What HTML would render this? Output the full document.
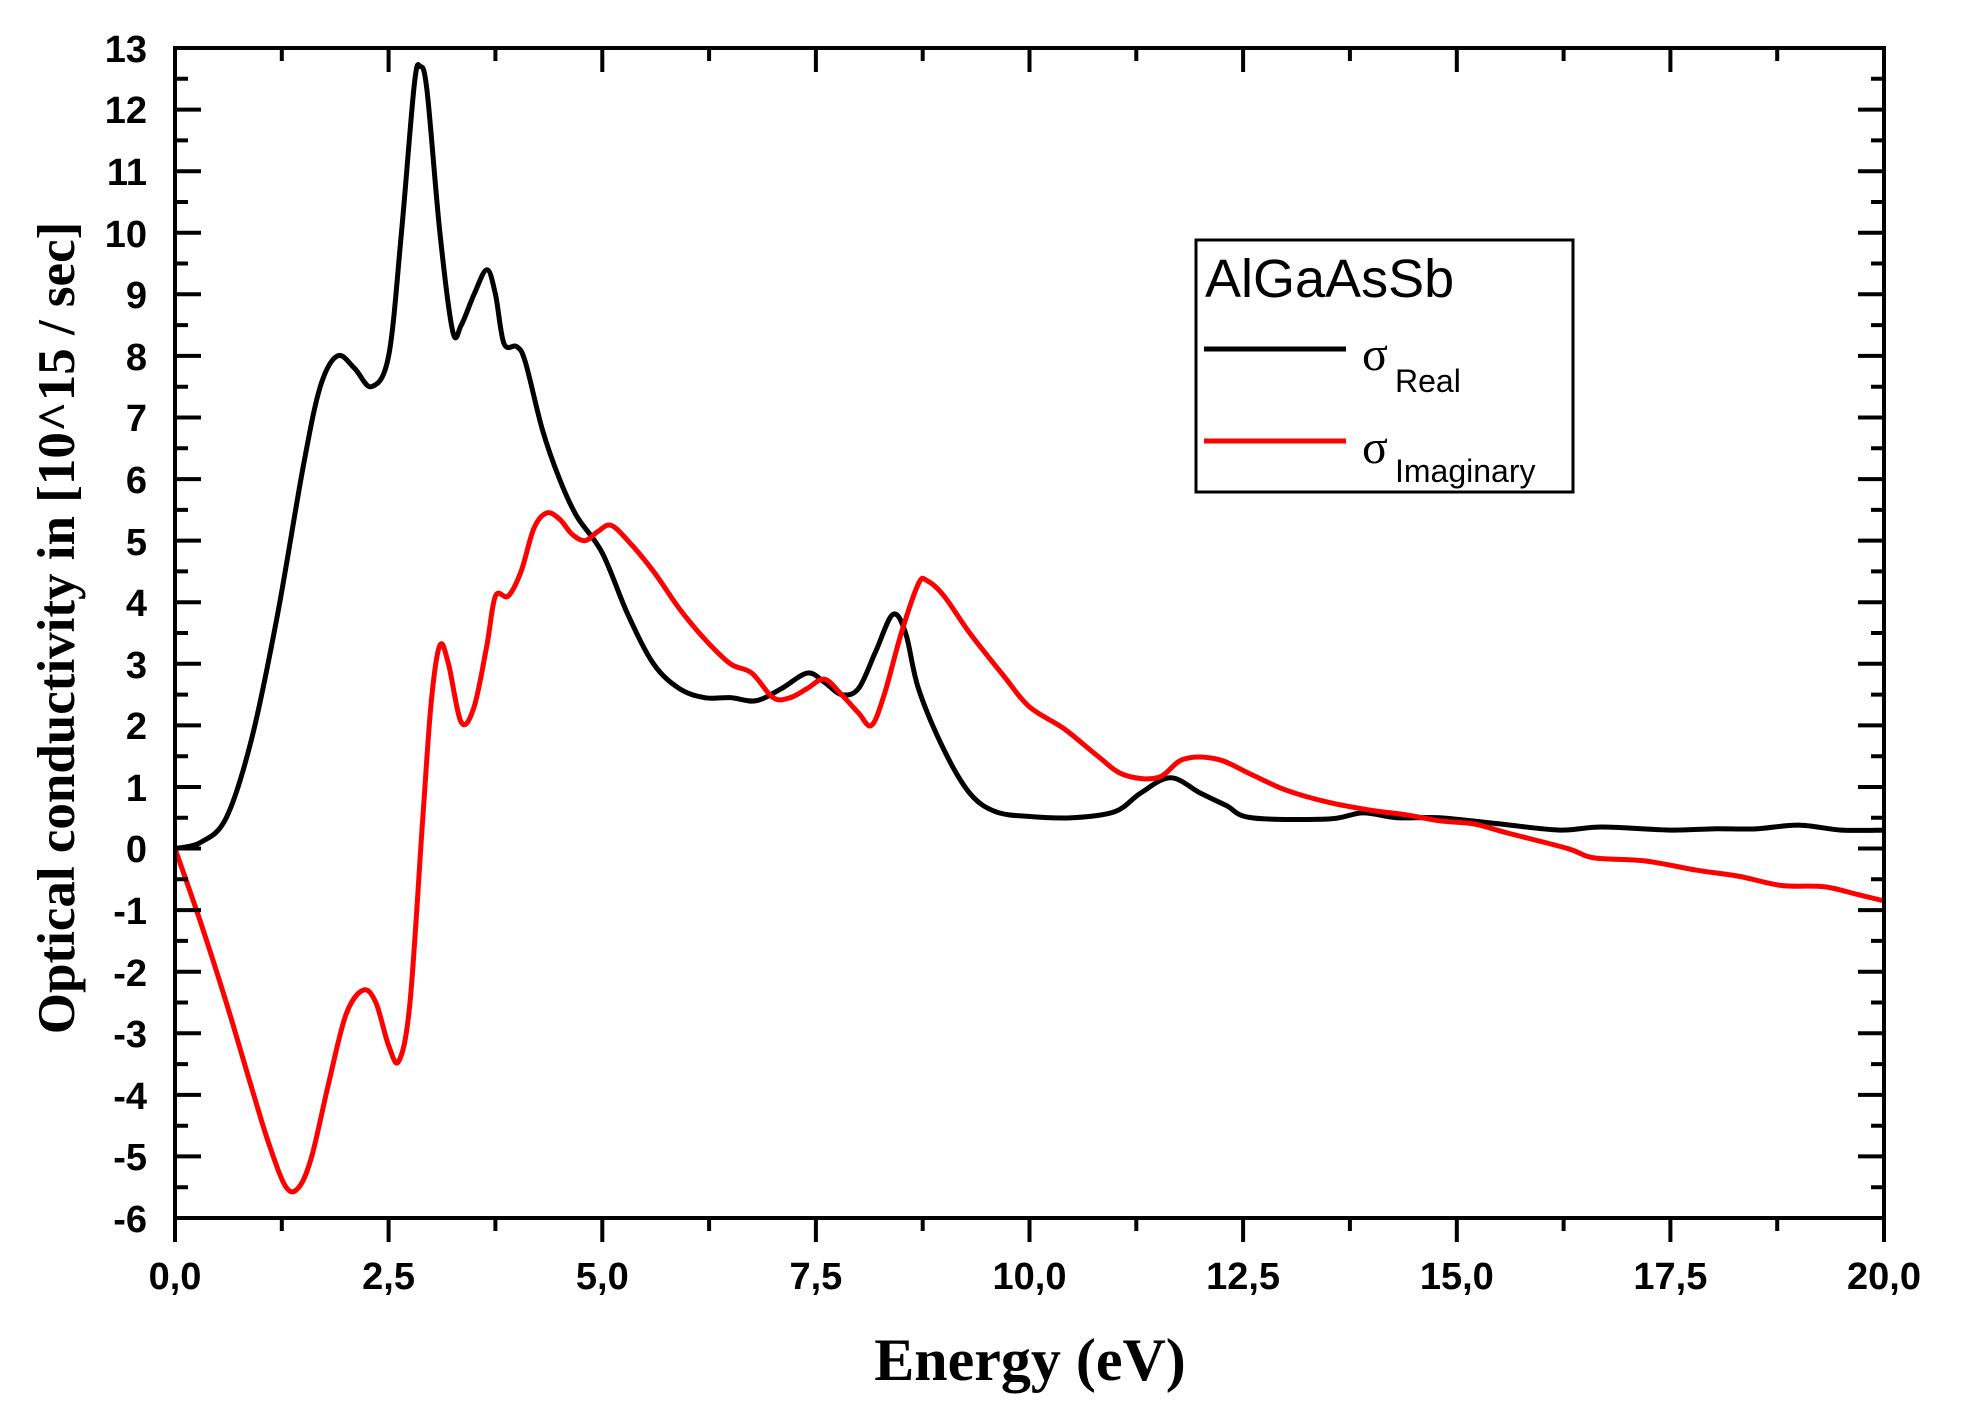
<!DOCTYPE html>
<html><head><meta charset="utf-8"><style>
html,body{margin:0;padding:0;background:#fff}
svg{display:block}
</style></head><body>
<svg id="s" width="1969" height="1422" viewBox="0 0 1969 1422" xmlns="http://www.w3.org/2000/svg">
<rect width="1969" height="1422" fill="#fff"/>
<g id="curves" transform="translate(175,48) scale(85.45,-61.58) translate(0,-13)" fill="none" stroke-linejoin="round" stroke-linecap="round">
<polyline id="pb" vector-effect="non-scaling-stroke" stroke="#000" stroke-width="5" points="0,0 0.3,0.1 0.6,0.5 0.9,1.8 1.2,3.8 1.5,6.2 1.7,7.5 1.9,8.0 2.1,7.8 2.3,7.5 2.5,8.0 2.65,10 2.8,12.4 2.87,12.7 2.95,12.3 3.1,10 3.25,8.4 3.35,8.5 3.5,9.0 3.65,9.4 3.75,9.0 3.85,8.2 4.0,8.15 4.1,7.9 4.3,6.8 4.5,6.0 4.7,5.4 5.0,4.8 5.3,3.8 5.6,3.0 5.9,2.6 6.2,2.45 6.5,2.45 6.8,2.4 7.1,2.6 7.4,2.85 7.6,2.7 7.8,2.5 8.0,2.6 8.2,3.2 8.4,3.8 8.55,3.5 8.7,2.6 9.0,1.6 9.3,0.9 9.6,0.6 10,0.52 10.5,0.5 11,0.6 11.3,0.9 11.65,1.15 12,0.9 12.3,0.7 12.6,0.5 13.5,0.48 13.9,0.58 14.3,0.5 14.8,0.5 15.5,0.4 16.2,0.3 16.7,0.35 17.5,0.3 18,0.32 18.5,0.32 19,0.38 19.5,0.3 20,0.3"/>
<polyline id="pr" vector-effect="non-scaling-stroke" stroke="#f00" stroke-width="5" points="0,0 0.3,-1.2 0.6,-2.5 0.9,-3.9 1.1,-4.8 1.3,-5.5 1.45,-5.5 1.6,-5.0 1.8,-3.8 2.0,-2.7 2.2,-2.3 2.35,-2.5 2.5,-3.2 2.62,-3.45 2.75,-2.5 2.9,0.5 3.0,2.4 3.1,3.3 3.2,3.0 3.35,2.05 3.5,2.3 3.65,3.3 3.75,4.1 3.9,4.1 4.05,4.5 4.2,5.2 4.35,5.45 4.5,5.35 4.65,5.1 4.8,5.0 4.95,5.15 5.1,5.25 5.3,5.0 5.6,4.5 5.9,3.9 6.2,3.4 6.5,3.0 6.75,2.85 7.0,2.45 7.2,2.45 7.4,2.6 7.6,2.75 7.8,2.5 8.0,2.2 8.15,2.0 8.3,2.5 8.5,3.5 8.7,4.3 8.8,4.35 9.0,4.1 9.3,3.5 9.7,2.8 10.0,2.3 10.4,1.95 10.8,1.5 11.1,1.2 11.5,1.15 11.8,1.45 12.2,1.45 12.6,1.2 13,0.95 13.5,0.75 14,0.62 14.4,0.55 14.8,0.45 15.2,0.4 15.6,0.25 16.3,0.0 16.6,-0.15 17.2,-0.2 17.8,-0.35 18.3,-0.45 18.8,-0.6 19.3,-0.62 19.7,-0.75 20,-0.85"/>
</g>
<rect x="175" y="48" width="1709" height="1170" fill="none" stroke="#000" stroke-width="4"/>
<g stroke="#000" stroke-width="4">
<path d="M175,109.6h26M175,171.2h26M175,232.7h26M175,294.3h26M175,355.9h26M175,417.5h26M175,479.1h26M175,540.6h26M175,602.2h26M175,663.8h26M175,725.4h26M175,787h26M175,848.5h26M175,910.1h26M175,971.7h26M175,1033.3h26M175,1094.9h26M175,1156.4h26"/>
<path d="M1884,109.6h-26M1884,171.2h-26M1884,232.7h-26M1884,294.3h-26M1884,355.9h-26M1884,417.5h-26M1884,479.1h-26M1884,540.6h-26M1884,602.2h-26M1884,663.8h-26M1884,725.4h-26M1884,787h-26M1884,848.5h-26M1884,910.1h-26M1884,971.7h-26M1884,1033.3h-26M1884,1094.9h-26M1884,1156.4h-26"/>
<path d="M175,78.8h13M175,140.4h13M175,202h13M175,263.5h13M175,325.1h13M175,386.7h13M175,448.3h13M175,509.9h13M175,571.4h13M175,633h13M175,694.6h13M175,756.2h13M175,817.8h13M175,879.3h13M175,940.9h13M175,1002.5h13M175,1064.1h13M175,1125.7h13M175,1187.2h13"/>
<path d="M1884,78.8h-13M1884,140.4h-13M1884,202h-13M1884,263.5h-13M1884,325.1h-13M1884,386.7h-13M1884,448.3h-13M1884,509.9h-13M1884,571.4h-13M1884,633h-13M1884,694.6h-13M1884,756.2h-13M1884,817.8h-13M1884,879.3h-13M1884,940.9h-13M1884,1002.5h-13M1884,1064.1h-13M1884,1125.7h-13M1884,1187.2h-13"/>
<path d="M175,1218v24M388.6,1218v24M602.3,1218v24M815.9,1218v24M1029.5,1218v24M1243.1,1218v24M1456.8,1218v24M1670.4,1218v24M1884,1218v24"/>
<path d="M281.8,1218v13M495.4,1218v13M709.1,1218v13M922.7,1218v13M1136.3,1218v13M1349.9,1218v13M1563.6,1218v13M1777.2,1218v13"/>
<path d="M388.6,48v24M602.3,48v24M815.9,48v24M1029.5,48v24M1243.1,48v24M1456.8,48v24M1670.4,48v24"/>
<path d="M281.8,48v13M495.4,48v13M709.1,48v13M922.7,48v13M1136.3,48v13M1349.9,48v13M1563.6,48v13M1777.2,48v13"/>
</g>
<g font-family="Liberation Sans, sans-serif" font-weight="bold" font-size="38" fill="#000" text-anchor="end">
<text x="147" y="62">13</text><text x="147" y="123">12</text><text x="147" y="185">11</text><text x="147" y="247">10</text>
<text x="147" y="308">9</text><text x="147" y="370">8</text><text x="147" y="431">7</text><text x="147" y="493">6</text>
<text x="147" y="555">5</text><text x="147" y="616">4</text><text x="147" y="678">3</text><text x="147" y="739">2</text>
<text x="147" y="801">1</text><text x="147" y="862">0</text><text x="147" y="924">-1</text><text x="147" y="986">-2</text>
<text x="147" y="1047">-3</text><text x="147" y="1109">-4</text><text x="147" y="1170">-5</text><text x="147" y="1232">-6</text>
</g>
<g font-family="Liberation Sans, sans-serif" font-weight="bold" font-size="38" fill="#000" text-anchor="middle">
<text x="175" y="1289">0,0</text><text x="388.6" y="1289">2,5</text><text x="602.3" y="1289">5,0</text>
<text x="815.9" y="1289">7,5</text><text x="1029.5" y="1289">10,0</text><text x="1243.1" y="1289">12,5</text>
<text x="1456.8" y="1289">15,0</text><text x="1670.4" y="1289">17,5</text><text x="1884" y="1289">20,0</text>
</g>
<text x="1030" y="1380" text-anchor="middle" font-family="Liberation Serif, serif" font-weight="bold" font-size="60">Energy (eV)</text>
<text transform="translate(74,628) rotate(-90)" text-anchor="middle" font-family="Liberation Serif, serif" font-weight="bold" font-size="53">Optical conductivity in [10^15 / sec]</text>
<rect x="1196" y="240" width="377" height="252" fill="#fff" stroke="#000" stroke-width="3"/>
<text x="1205" y="297" font-family="Liberation Sans, sans-serif" font-size="54">AlGaAsSb</text>
<line x1="1204" y1="349" x2="1346" y2="349" stroke="#000" stroke-width="5"/>
<line x1="1204" y1="441" x2="1346" y2="441" stroke="#f00" stroke-width="5"/>
<text x="1362" y="370" font-family="Liberation Serif, serif" font-size="48">σ</text>
<text x="1395" y="392" font-family="Liberation Sans, sans-serif" font-size="32">Real</text>
<text x="1362" y="463" font-family="Liberation Serif, serif" font-size="48">σ</text>
<text x="1395" y="482" font-family="Liberation Sans, sans-serif" font-size="32">Imaginary</text>
</svg>
<script>
(function(){
var NS="http://www.w3.org/2000/svg",svg=document.getElementById("s");
function X(e){return 175+e*85.45}function Y(v){return 48+(13-v)*61.58}
["pb","pr"].forEach(function(id){
var pl=document.getElementById(id);
var pts=pl.getAttribute("points").trim().split(/\s+/).map(function(s){var a=s.split(",");return [X(+a[0]),Y(+a[1])];});
var d="M"+pts[0][0]+","+pts[0][1];
for(var i=0;i<pts.length-1;i++){
var p0=pts[i-1]||pts[i],p1=pts[i],p2=pts[i+1],p3=pts[i+2]||p2;
var c1x=p1[0]+(p2[0]-p0[0])/6,c1y=p1[1]+(p2[1]-p0[1])/6,c2x=p2[0]-(p3[0]-p1[0])/6,c2y=p2[1]-(p3[1]-p1[1])/6;
d+=" C"+c1x.toFixed(2)+","+c1y.toFixed(2)+" "+c2x.toFixed(2)+","+c2y.toFixed(2)+" "+p2[0].toFixed(2)+","+p2[1].toFixed(2);}
var p=document.createElementNS(NS,"path");p.setAttribute("d",d);p.setAttribute("fill","none");
p.setAttribute("stroke",pl.getAttribute("stroke"));p.setAttribute("stroke-width","5");p.setAttribute("stroke-linejoin","round");
svg.insertBefore(p,document.getElementById("curves"));pl.style.display="none";});
})();
</script>
</body></html>
